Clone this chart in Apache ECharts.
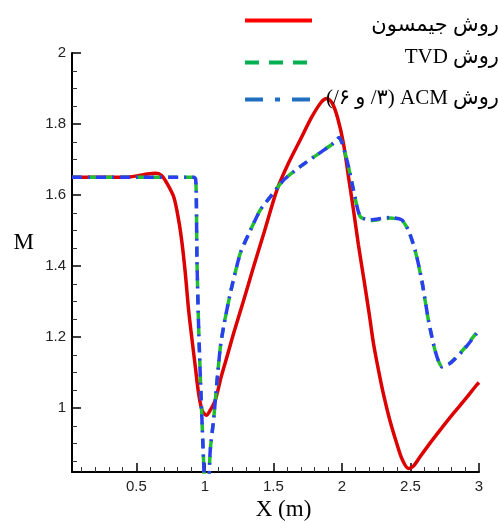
<!DOCTYPE html>
<html><head><meta charset="utf-8">
<script src="https://cdn.jsdelivr.net/npm/echarts@6/dist/echarts.min.js"></script>
<style>html,body{margin:0;padding:0;background:#fff}#c{width:498px;height:522px}</style>
</head><body><div id="c"></div>
<script>
// Jameson method
const jamesonX = [0.03,0.2,0.35,0.45,0.52,0.58,0.64,0.68,0.72,0.772,0.808,0.833,0.857,0.881,0.906,0.93,0.954,0.979,1.01,1.04,1.076,1.12,1.165,1.209,1.28,1.355,1.44,1.525,1.61,1.695,1.78,1.85,1.89,1.93,1.97,2.011,2.05,2.084,2.12,2.157,2.2,2.23,2.27,2.302,2.35,2.4,2.44,2.485,2.52,2.57,2.64,2.716,2.813,2.9,2.983,3.0];
const jamesonY = [1.65,1.65,1.65,1.651,1.655,1.659,1.661,1.656,1.635,1.595,1.53,1.464,1.379,1.276,1.192,1.116,1.041,0.994,0.98,0.995,1.023,1.09,1.15,1.21,1.30,1.398,1.505,1.614,1.69,1.755,1.82,1.862,1.872,1.858,1.815,1.745,1.645,1.558,1.46,1.37,1.262,1.182,1.10,1.041,0.965,0.90,0.855,0.83,0.836,0.863,0.90,0.938,0.985,1.025,1.065,1.072];
// TVD method
const tvdX = [0.03,0.5,0.92,0.932,0.937,0.942,0.954,0.971,0.99,1.005,1.022,1.039,1.063,1.088,1.112,1.136,1.185,1.258,1.331,1.404,1.477,1.574,1.695,1.817,1.938,1.98,2.036,2.084,2.133,2.206,2.3,2.351,2.437,2.485,2.534,2.582,2.631,2.679,2.728,2.789,2.886,2.983,3.0];
const tvdY = [1.65,1.65,1.65,1.645,1.60,1.417,1.229,1.04,0.853,0.72,0.74,0.882,0.966,1.075,1.17,1.229,1.323,1.436,1.50,1.558,1.595,1.642,1.68,1.713,1.746,1.762,1.699,1.614,1.539,1.528,1.533,1.535,1.529,1.50,1.444,1.36,1.247,1.163,1.117,1.127,1.165,1.213,1.222];
// ACM method (3/ and 6/)
const acmX = [0.03,0.5,0.92,0.932,0.937,0.942,0.954,0.971,0.99,1.005,1.022,1.039,1.063,1.088,1.112,1.136,1.185,1.258,1.331,1.404,1.477,1.574,1.695,1.817,1.938,1.98,2.036,2.084,2.133,2.206,2.3,2.351,2.437,2.485,2.534,2.582,2.631,2.679,2.728,2.789,2.886,2.983,3.0];
const acmY = [1.65,1.65,1.65,1.645,1.60,1.417,1.229,1.04,0.853,0.72,0.74,0.882,0.966,1.075,1.17,1.229,1.323,1.436,1.50,1.558,1.595,1.642,1.68,1.713,1.746,1.762,1.699,1.614,1.539,1.53,1.535,1.537,1.53,1.501,1.445,1.361,1.248,1.163,1.116,1.126,1.163,1.21,1.218];

const xMajor = [0.5,1,1.5,2,2.5,3];
const xMinor = [0.1,0.2,0.3,0.4,0.6,0.7,0.8,0.9,1.1,1.2,1.3,1.4,1.6,1.7,1.8,1.9,2.1,2.2,2.3,2.4,2.6,2.7,2.8,2.9];
const yMajor = [1,1.2,1.4,1.6,1.8,2];
const yMinor = [0.85,0.9,0.95,1.05,1.1,1.15,1.25,1.3,1.35,1.45,1.5,1.55,1.65,1.7,1.75,1.85,1.9,1.95];

const names = ['روش جیمسون', 'روش TVD', 'روش ACM (۳/ و۶/)'];
// visual left-to-right pieces of each legend label (each piece drawn as its own text run)
const legendPieces = [
  ['روش جیمسون'],
  ['TVD ', 'روش'],
  ['(/', '۶', ' ', 'و', ' /', '۳', ') ACM ', 'روش']
];

const zip = (xs, ys) => xs.map((x, i) => [x, ys[i]]);
const serif = "'Liberation Serif', 'DejaVu Serif', 'DejaVu Sans', serif";
const sans = "'Liberation Sans', Arial, sans-serif";

function mkLegend(i, top, color, ltype, width, pad) {
  return {
    show: true, data: [{name: names[i], itemStyle: {opacity: 0}, lineStyle: {color: color, type: ltype, width: width}}],
    left: 243, top: top, padding: 0, itemWidth: 67, itemHeight: 14, itemGap: 0,
    formatter: () => legendPieces[i].map(p => '{t|' + p + '}').join(''),
    textStyle: {
      width: 182,
      rich: { t: { align: 'right', fontFamily: serif, fontSize: 21, color: '#000', padding: pad } }
    }
  };
}

const chart = echarts.init(document.getElementById('c'), null, {renderer: 'canvas'});
const axisLineStyle = {color: '#000', width: 2};
chart.setOption({
  animation: false,
  backgroundColor: '#fff',
  grid: {left: 72, right: 19, top: 53, bottom: 50, containLabel: false, outerBoundsMode: 'none'},
  legend: [
    mkLegend(0, 15, '#ff0000', 'solid', 4, [10, 0, 0, 0]),
    mkLegend(1, 47, '#00b050', [14, 10], 4, [0, 0, 10, 0]),
    mkLegend(2, 88, '#1f6fc0', [18, 12, 5, 12], 4, [0, 0, 2, 0])
  ],
  xAxis: [
    {
      type: 'value', min: 0.03, max: 3,
      axisLine: {show: true, lineStyle: axisLineStyle},
      axisTick: {show: true, inside: true, length: 9, lineStyle: {color: '#000', width: 1.5}, customValues: xMajor},
      axisLabel: {customValues: xMajor, formatter: v => String(v), fontFamily: sans, fontSize: 15, color: '#222', margin: 7},
      splitLine: {show: false},
      name: 'X (m)', nameLocation: 'middle', nameGap: 26,
      nameTextStyle: {fontFamily: serif, fontSize: 23, color: '#000', padding: [0, 0, 0, 16]}
    },
    {
      type: 'value', min: 0.03, max: 3, gridIndex: 0, position: 'bottom',
      axisLine: {show: false},
      axisTick: {show: true, inside: true, length: 5, lineStyle: {color: '#333', width: 1}, customValues: xMinor},
      axisLabel: {show: false}, splitLine: {show: false}
    }
  ],
  yAxis: [
    {
      type: 'value', min: 0.82, max: 2,
      axisLine: {show: true, lineStyle: axisLineStyle},
      axisTick: {show: true, inside: true, length: 9, lineStyle: {color: '#000', width: 1.5}, customValues: yMajor},
      axisLabel: {customValues: yMajor, formatter: v => String(v), fontFamily: sans, fontSize: 15, color: '#222', margin: 6},
      splitLine: {show: false},
      name: 'M', nameLocation: 'middle', nameGap: 38, nameRotate: 0,
      nameTextStyle: {fontFamily: serif, fontSize: 23, color: '#000', verticalAlign: 'bottom', lineHeight: 40}
    },
    {
      type: 'value', min: 0.82, max: 2, gridIndex: 0, position: 'left',
      axisLine: {show: false},
      axisTick: {show: true, inside: true, length: 5, lineStyle: {color: '#333', width: 1}, customValues: yMinor},
      axisLabel: {show: false}, splitLine: {show: false}
    }
  ],
  series: [
    {name: names[0], type: 'line', data: zip(jamesonX, jamesonY), symbol: 'none', smooth: 0.3, clip: true,
     lineStyle: {color: '#dd0000', width: 3.5}, itemStyle: {color: '#dd0000'}, z: 2},
    {name: names[1], type: 'line', data: zip(tvdX, tvdY), symbol: 'none', smooth: 0.2, clip: true,
     lineStyle: {color: '#22c030', width: 3.5, type: [9, 7]}, itemStyle: {color: '#22c030'}, z: 3},
    {name: names[2], type: 'line', data: zip(acmX, acmY), symbol: 'none', smooth: 0.2, clip: true,
     lineStyle: {color: '#2a3ff0', width: 3.5, type: [10, 6, 2, 6]}, itemStyle: {color: '#2a3ff0'}, z: 4}
  ]
});
</script>
</body></html>
